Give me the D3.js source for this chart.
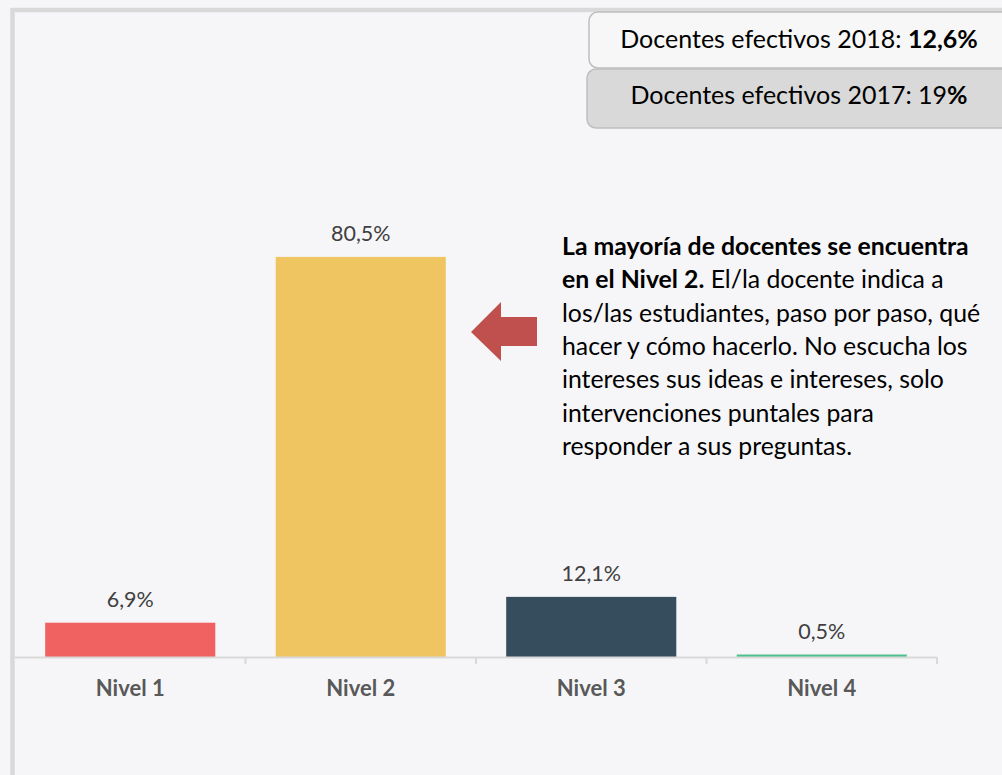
<!DOCTYPE html>
<html><head><meta charset="utf-8">
<script src="https://cdn.jsdelivr.net/npm/d3@7"></script>
<style>
html,body{margin:0;padding:0;background:#f6f6f8;}
svg{display:block;}
text{font-family:Lato, "Open Sans", sans-serif;}
</style></head>
<body>
<script>
const categories = ["Nivel 1", "Nivel 2", "Nivel 3", "Nivel 4"];
const values = [6.9, 80.5, 12.1, 0.5];
const valueLabels = ["6,9%", "80,5%", "12,1%", "0,5%"];
const colors = ["#f06262", "#efc562", "#364d5e", "#4cc08e"];
const boxLines = [
  {normal: "Docentes efectivos 2018: ", bold: "12,6%"},
  {normal: "Docentes efectivos 2017: 19", bold: "%"}
];
const noteLines = [
  [{t: "La mayoría de docentes se encuentra", b: true}],
  [{t: "en el Nivel 2.", b: true}, {t: " El/la docente indica a", b: false}],
  [{t: "los/las estudiantes, paso por paso, qué", b: false}],
  [{t: "hacer y cómo hacerlo. No escucha los", b: false}],
  [{t: "intereses sus ideas e intereses, solo", b: false}],
  [{t: "intervenciones puntales para", b: false}],
  [{t: "responder a sus preguntas.", b: false}]
];

const W = 1002, H = 775;
const svg = d3.select("body").append("svg").attr("width", W).attr("height", H);

// frame
svg.append("rect").attr("x", 0).attr("y", 0).attr("width", W).attr("height", H).attr("fill", "#f6f6f8");
svg.append("path").attr("d", "M12.5,775 V10 H1002").attr("fill", "none").attr("stroke", "#d9d9d9").attr("stroke-width", 4.5);

const x = d3.scaleBand().domain(categories).range([15, 937]).paddingInner(0.262).paddingOuter(0.131);
const y = d3.scaleLinear().domain([0, 100]).range([657, 160]);

// bars
svg.selectAll("rect.bar").data(values).join("rect").attr("class", "bar")
  .attr("x", (d, i) => x(categories[i]))
  .attr("width", x.bandwidth())
  .attr("y", d => y(d))
  .attr("height", d => y(0) - y(d))
  .attr("fill", (d, i) => colors[i]);

// axis
const g = svg.append("g").attr("transform", `translate(0,${y(0)})`);
g.append("line").attr("x1", 15).attr("x2", 937).attr("y1", 0.5).attr("y2", 0.5).attr("stroke", "#d9d9d9").attr("stroke-width", 2);
const step = x.step();
const boundaries = d3.range(1, categories.length + 1).map(i => 15 + i * step);
g.selectAll("line.tick").data(boundaries).join("line").attr("class", "tick")
  .attr("x1", d => d).attr("x2", d => d).attr("y1", 0).attr("y2", 7)
  .attr("stroke", "#d9d9d9").attr("stroke-width", 2);
g.selectAll("text.cat").data(categories).join("text").attr("class", "cat")
  .attr("x", d => x(d) + x.bandwidth() / 2).attr("y", 39)
  .attr("text-anchor", "middle").attr("fill", "#595959")
  .attr("font-size", 22).attr("font-weight", "bold").text(d => d);

// value labels
svg.selectAll("text.val").data(values).join("text").attr("class", "val")
  .attr("x", (d, i) => x(categories[i]) + x.bandwidth() / 2)
  .attr("y", d => y(d) - 16)
  .attr("text-anchor", "middle").attr("fill", "#404040")
  .attr("font-size", 21.5).text((d, i) => valueLabels[i]);

// boxes
const boxes = [{y: 12, h: 56, fill: "#f7f7f7", x: 589, base: 48}, {y: 69, h: 59, fill: "#d9d9d9", x: 587, base: 104}];
boxes.forEach((b, i) => {
  svg.append("rect").attr("x", b.x).attr("y", b.y).attr("width", 440).attr("height", b.h)
    .attr("rx", 9).attr("fill", b.fill).attr("stroke", "#bfbfbf").attr("stroke-width", 1.5);
  const t = svg.append("text").attr("x", 799).attr("y", b.base)
    .attr("text-anchor", "middle").attr("fill", "#000").attr("font-size", 25);
  t.append("tspan").text(boxLines[i].normal);
  t.append("tspan").attr("font-weight", "bold").text(boxLines[i].bold);
});

// arrow
svg.append("path")
  .attr("d", "M471,332 L501,302 L501,317 L537,317 L537,346 L501,346 L501,361 Z")
  .attr("fill", "#c0504d");

// note
noteLines.forEach((line, i) => {
  const t = svg.append("text").attr("x", 562).attr("y", 255 + i * 33.3)
    .attr("fill", "#000").attr("font-size", 24.8);
  line.forEach(s => t.append("tspan").attr("font-weight", s.b ? "bold" : "normal").text(s.t));
});
</script>
</body></html>
